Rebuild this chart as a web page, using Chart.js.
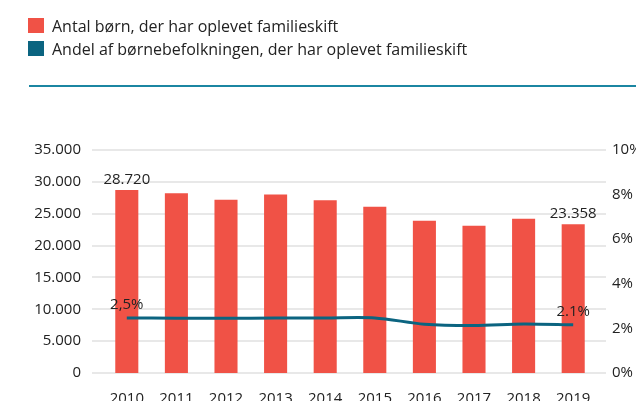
<!DOCTYPE html>
<html>
<head>
<meta charset="utf-8">
<script src="https://cdn.jsdelivr.net/npm/chart.js@4"></script>
<style>
    body { margin: 0; width: 636px; height: 403px; overflow: hidden; background: #fff; font-family: "Open Sans", sans-serif; }
    #wrap { position: relative; width: 636px; height: 403px; }
    #legend { position: absolute; left: 28px; top: 14px; margin: 0; padding: 0; list-style: none; font-size: 16px; color: #222; }
    #legend li { display: flex; align-items: center; height: 23px; }
    #legend span.box { display: inline-block; width: 16px; height: 15px; margin-right: 8px; }
    #rule { position: absolute; left: 29px; right: 0; top: 85px; height: 2px; background: #1b86a2; }
    canvas { position: absolute; left: 0; top: 0; }
</style>
</head>
<body>
<div id="wrap">
    <canvas id="chart" width="636" height="403"></canvas>
    <ul id="legend"></ul>
    <div id="rule"></div>
</div>
<script>
const years = ["2010", "2011", "2012", "2013", "2014", "2015", "2016", "2017", "2018", "2019"];
const children = [28720, 28200, 27200, 28000, 27100, 26100, 23900, 23100, 24200, 23358];
const share = [2.47, 2.46, 2.45, 2.47, 2.47, 2.47, 2.19, 2.13, 2.2, 2.16];
const seriesNames = [
    "Antal børn, der har oplevet familieskift",
    "Andel af børnebefolkningen, der har oplevet familieskift"
];
const seriesColors = ["#f05246", "#0b6480"];
// labels shown on the first and last point of each series, as in the original
const barLabels = ["28.720", "23.358"];
const lineLabels = ["2,5%", "2.1%"];

const FONT = "'Open Sans', sans-serif";
const TEXT = "#222";

// format 35000 -> 35.000
function danishNumber(v) {
    return String(v).replace(/\B(?=(\d{3})+(?!\d))/g, ".");
}

// Draw the horizontal grid a bit wider than the plot, like the original
const gridPlugin = {
    id: "wideGrid",
    beforeDatasetsDraw(chart) {
        const ctx = chart.ctx;
        const area = chart.chartArea;
        const scale = chart.scales.y;
        ctx.save();
        ctx.strokeStyle = "#e1e1e1";
        ctx.lineWidth = 1.5;
        scale.ticks.forEach((t) => {
            const y = Math.round(scale.getPixelForValue(t.value));
            ctx.beginPath();
            ctx.moveTo(area.left - 10, y);
            ctx.lineTo(area.right + 8, y);
            ctx.stroke();
        });
        ctx.restore();
    }
};

// Value labels on the first and last bar / point
const endLabelPlugin = {
    id: "endLabels",
    afterDatasetsDraw(chart) {
        const ctx = chart.ctx;
        ctx.save();
        ctx.font = "15px " + FONT;
        ctx.fillStyle = TEXT;
        ctx.textAlign = "center";
        ctx.textBaseline = "middle";
        const bars = chart.getDatasetMeta(0).data;
        const points = chart.getDatasetMeta(1).data;
        const last = bars.length - 1;
        ctx.fillText(barLabels[0], bars[0].x, bars[0].y - 10);
        ctx.fillText(barLabels[1], bars[last].x, bars[last].y - 10);
        ctx.fillText(lineLabels[0], points[0].x, points[0].y - 13);
        ctx.fillText(lineLabels[1], points[last].x, points[last].y - 13);
        ctx.restore();
    }
};

const chart = new Chart(document.getElementById("chart").getContext("2d"), {
    data: {
        labels: years,
        datasets: [
            {
                type: "bar",
                label: seriesNames[0],
                data: children,
                backgroundColor: seriesColors[0],
                borderWidth: 0,
                categoryPercentage: 1,
                barPercentage: 0.465,
                yAxisID: "y",
                order: 2
            },
            {
                type: "line",
                label: seriesNames[1],
                data: share,
                borderColor: seriesColors[1],
                backgroundColor: seriesColors[1],
                borderWidth: 3,
                pointRadius: 0,
                tension: 0.3,
                yAxisID: "y2",
                order: 1
            }
        ]
    },
    options: {
        responsive: false,
        animation: false,
        layout: { padding: { top: 150, left: 0, right: 0, bottom: 0 } },
        plugins: {
            legend: { display: false },
            tooltip: { enabled: false }
        },
        scales: {
            x: {
                grid: { display: false, drawTicks: false },
                border: { display: false },
                ticks: { color: TEXT, font: { family: FONT, size: 15 }, padding: 17, maxRotation: 0 },
                afterFit: (s) => { s.height = 28; }
            },
            y: {
                position: "left",
                min: 0,
                max: 35000,
                grid: { display: false, drawTicks: false },
                border: { display: false },
                ticks: {
                    stepSize: 5000,
                    color: TEXT,
                    font: { family: FONT, size: 15 },
                    padding: 21,
                    callback: (v) => danishNumber(v)
                },
                afterFit: (s) => { s.width = 102; }
            },
            y2: {
                position: "right",
                min: 0,
                max: 10,
                grid: { display: false, drawTicks: false },
                border: { display: false },
                ticks: {
                    stepSize: 2,
                    color: TEXT,
                    font: { family: FONT, size: 15 },
                    padding: 14,
                    callback: (v) => v + "%"
                },
                afterFit: (s) => { s.width = 38; }
            }
        }
    },
    plugins: [gridPlugin, endLabelPlugin]
});

// Legend built from the chart's own datasets
const legendList = document.getElementById("legend");
chart.data.datasets.forEach((ds, i) => {
    const li = document.createElement("li");
    li.innerHTML = `<span class="box" style="background:${seriesColors[i]}"></span>${ds.label}`;
    legendList.appendChild(li);
});
</script>
</body>
</html>
